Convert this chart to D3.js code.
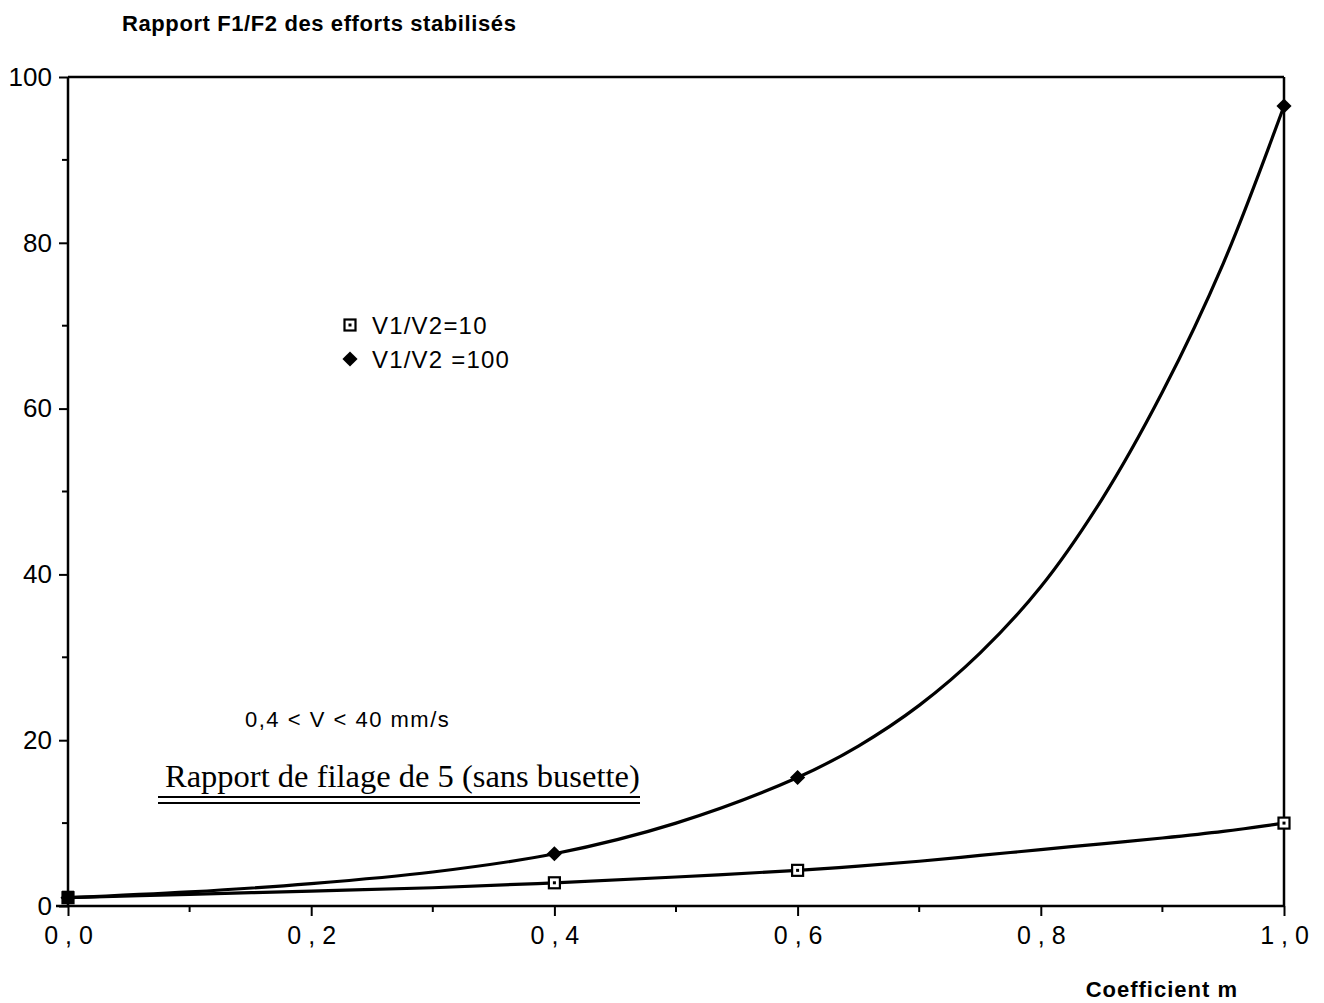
<!DOCTYPE html>
<html>
<head>
<meta charset="utf-8">
<script src="https://cdn.jsdelivr.net/npm/d3@7"></script>
<style>
  body { margin: 0; background: #fff; }
  svg { display: block; }
</style>
</head>
<body>
<div id="chart"></div>
<script>
// measured points
const mValues = [0, 0.4, 0.6, 1.0]
const ratio10 = [1.0, 2.8, 4.3, 10.0]
const ratio100 = [1.0, 6.3, 15.5, 96.5]

// fitted curves
const curveM = [0, 0.1, 0.2, 0.3, 0.4, 0.5, 0.6, 0.65, 0.7, 0.75, 0.8, 0.85, 0.9, 0.95, 1.0]
const curve10 = [1.0, 1.4, 1.8, 2.2, 2.8, 3.5, 4.3, 4.8, 5.4, 6.1, 6.8, 7.5, 8.2, 9.0, 10.0]
const curve100 = [1.0, 1.7, 2.7, 4.1, 6.3, 10.0, 15.5, 19.3, 24.2, 30.5, 38.5, 49, 62, 77.5, 96.5]

const xMajor = [0, 0.2, 0.4, 0.6, 0.8, 1.0]
const xMinor = [0.1, 0.3, 0.5, 0.7, 0.9]
const yMajor = [0, 20, 40, 60, 80, 100]
const yMinor = [10, 30, 50, 70, 90]

const legendLabels = ['V1/V2=10', 'V1/V2 =100']

let width = 1324
let height = 1003
let sans = '"Liberation Sans", Arial, Helvetica, sans-serif'
let serif = '"Liberation Serif", "Times New Roman", serif'

let svg = d3.select('#chart')
  .append('svg')
  .attr('width', width)
  .attr('height', height)

let x = d3.scaleLinear().domain([0, 1]).range([68, 1284])
let y = d3.scaleLinear().domain([0, 100]).range([906, 77])

// title
svg.append('text')
  .attr('x', 122)
  .attr('y', 31)
  .attr('font-family', sans)
  .attr('font-weight', 'bold')
  .attr('font-size', 22)
  .attr('letter-spacing', 0.6)
  .text('Rapport F1/F2 des efforts stabilisés')

// frame
let frame = svg.append('g')
  .attr('stroke', '#000')
  .attr('stroke-width', 2.5)
  .attr('fill', 'none')

frame.append('line')
  .attr('x1', x(0)).attr('x2', x(0))
  .attr('y1', y(100)).attr('y2', y(0))
frame.append('line')
  .attr('x1', x(0) - 12).attr('x2', x(1))
  .attr('y1', y(0)).attr('y2', y(0))
frame.append('line')
  .attr('x1', x(0)).attr('x2', x(1))
  .attr('y1', y(100)).attr('y2', y(100))
frame.append('line')
  .attr('x1', x(1)).attr('x2', x(1))
  .attr('y1', y(100)).attr('y2', y(0))

// y axis
let yAxis = d3.axisLeft(y)
  .tickValues(yMajor)
  .tickSize(9)
  .tickPadding(7)
  .tickFormat(d3.format('d'))

let gy = svg.append('g')
  .attr('transform', `translate(${x(0)},0)`)
  .call(yAxis)
gy.select('.domain').remove()
gy.selectAll('line').attr('stroke-width', 2)
gy.selectAll('text')
  .attr('font-family', sans)
  .attr('font-size', 26)
  .attr('fill', '#000')

svg.append('g')
  .selectAll('line')
  .data(yMinor)
  .enter()
  .append('line')
  .attr('x1', x(0) - 6)
  .attr('x2', x(0))
  .attr('y1', (d) => y(d))
  .attr('y2', (d) => y(d))
  .attr('stroke', '#000')
  .attr('stroke-width', 2)

// x axis
let xAxis = d3.axisBottom(x)
  .tickValues(xMajor)
  .tickSize(10)
  .tickPadding(10)
  .tickFormat((d) => d3.format('.1f')(d).replace('.', ','))

let gx = svg.append('g')
  .attr('transform', `translate(0,${y(0)})`)
  .call(xAxis)
gx.select('.domain').remove()
gx.selectAll('line').attr('stroke-width', 2)
gx.selectAll('text')
  .attr('font-family', sans)
  .attr('font-size', 25)
  .attr('letter-spacing', 7)
  .attr('dx', 3.5)
  .attr('fill', '#000')

svg.append('g')
  .selectAll('line')
  .data(xMinor)
  .enter()
  .append('line')
  .attr('x1', (d) => x(d))
  .attr('x2', (d) => x(d))
  .attr('y1', y(0))
  .attr('y2', y(0) + 6)
  .attr('stroke', '#000')
  .attr('stroke-width', 2)

svg.append('text')
  .attr('x', 1238)
  .attr('y', 997)
  .attr('text-anchor', 'end')
  .attr('font-family', sans)
  .attr('font-weight', 'bold')
  .attr('font-size', 22)
  .attr('letter-spacing', 1)
  .text('Coefficient m')

// curves
let line = d3.line()
  .x((d) => x(d[0]))
  .y((d) => y(d[1]))
  .curve(d3.curveCatmullRom.alpha(0.5))

let curves = [curve10, curve100]
svg.append('g')
  .selectAll('path')
  .data(curves)
  .enter()
  .append('path')
  .attr('d', (vals) => line(curveM.map((m, i) => [m, vals[i]])))
  .attr('fill', 'none')
  .attr('stroke', '#000')
  .attr('stroke-width', 3.2)

// markers
function squareMark (g) {
  g.append('rect')
    .attr('x', -5.5).attr('y', -5.5)
    .attr('width', 11).attr('height', 11)
    .attr('fill', '#fff')
    .attr('stroke', '#000')
    .attr('stroke-width', 2.2)
  g.append('rect')
    .attr('x', -1.5).attr('y', -1.5)
    .attr('width', 3).attr('height', 3)
    .attr('fill', '#000')
}

function diamondMark (g) {
  g.append('path')
    .attr('d', d3.symbol().type(d3.symbolSquare).size(115)())
    .attr('transform', 'rotate(45)')
    .attr('fill', '#000')
}

svg.append('g')
  .selectAll('g')
  .data(mValues.map((m, i) => [m, ratio10[i]]))
  .enter()
  .append('g')
  .attr('transform', (d) => `translate(${x(d[0])},${y(d[1])})`)
  .each(function () { squareMark(d3.select(this)) })

svg.append('g')
  .selectAll('g')
  .data(mValues.map((m, i) => [m, ratio100[i]]))
  .enter()
  .append('g')
  .attr('transform', (d) => `translate(${x(d[0])},${y(d[1])})`)
  .each(function () { diamondMark(d3.select(this)) })

// overlapping start point shows as a solid block
svg.append('rect')
  .attr('x', x(0) - 6).attr('y', y(1) - 7)
  .attr('width', 12).attr('height', 13)
  .attr('fill', '#000')

// legend
let legend = svg.append('g')
  .attr('transform', 'translate(350,325)')

legend.selectAll('g')
  .data(legendLabels)
  .enter()
  .append('g')
  .attr('transform', (d, i) => `translate(0,${i * 34})`)
  .each(function (d, i) {
    let g = d3.select(this)
    if (i === 0) squareMark(g)
    else diamondMark(g)
    g.append('text')
      .attr('x', 22)
      .attr('y', 9)
      .attr('font-family', sans)
      .attr('font-size', 24)
      .attr('letter-spacing', 1.2)
      .text(d)
  })

// annotations
svg.append('text')
  .attr('x', 245)
  .attr('y', 727)
  .attr('font-family', sans)
  .attr('font-size', 22)
  .attr('letter-spacing', 1.5)
  .text('0,4 < V < 40 mm/s')

svg.append('text')
  .attr('x', 165)
  .attr('y', 787)
  .attr('font-family', serif)
  .attr('font-size', 32.5)
  .text('Rapport de filage de 5 (sans busette)')

svg.append('g')
  .selectAll('line')
  .data([797, 803])
  .enter()
  .append('line')
  .attr('x1', 158)
  .attr('x2', 640)
  .attr('y1', (d) => d)
  .attr('y2', (d) => d)
  .attr('stroke', '#000')
  .attr('stroke-width', 2)
</script>
</body>
</html>
